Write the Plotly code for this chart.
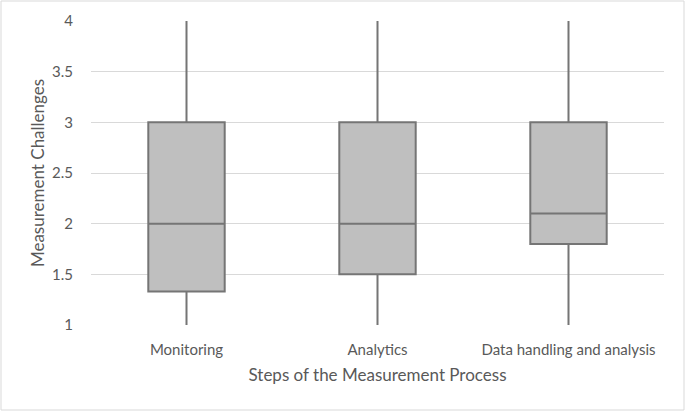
import plotly.graph_objects as go

categories = ["Monitoring", "Analytics", "Data handling and analysis"]
lower = [1, 1, 1]
q1 = [1.33, 1.5, 1.8]
median = [2, 2, 2.1]
q3 = [3, 3, 3]
upper = [4, 4, 4]
y_ticks = [1, 1.5, 2, 2.5, 3, 3.5, 4]
y_tick_text = ["1", "1.5", "2", "2.5", "3", "3.5", "4"]

FONT = "Lato"
TXT = "#595959"

fig = go.Figure()
fig.add_trace(go.Box(
    x=categories, q1=q1, median=median, q3=q3,
    lowerfence=lower, upperfence=upper,
    fillcolor="#bfbfbf",
    line=dict(color="#757575", width=2),
    whiskerwidth=0,
    width=0.4,
    boxpoints=False,
    showlegend=False,
    hoverinfo="skip",
))

W, H = 685, 411
ml, mr, mt, mb = 91, 21, 21, 86
pw, ph = W - ml - mr, H - mt - mb

fig.update_layout(
    width=W, height=H,
    margin=dict(l=ml, r=mr, t=mt, b=mb),
    paper_bgcolor="white", plot_bgcolor="white",
    font=dict(family=FONT, color=TXT, size=15),
    xaxis=dict(
        type="category", showgrid=False, zeroline=False, showline=False,
        ticks="", ticklabelstandoff=14,
        tickfont=dict(size=15, color=TXT, family=FONT),
        title=dict(text="Steps of the Measurement Process",
                   font=dict(size=17, color=TXT, family=FONT), standoff=12),
        range=[-0.5, 2.5],
    ),
    yaxis=dict(
        range=[1, 4], tickvals=y_ticks, ticktext=y_tick_text,
        showgrid=True, gridcolor="#d9d9d9", gridwidth=1,
        zeroline=False, showline=False, ticks="",
        ticklabelstandoff=17,
        tickfont=dict(size=15, color=TXT, family=FONT),
        title=dict(text="Measurement Challenges",
                   font=dict(size=17, color=TXT, family=FONT), standoff=3),
    ),
    shapes=[dict(
        type="rect", xref="paper", yref="paper",
        x0=(1 - ml) / pw, x1=(W - 1 - ml) / pw,
        y0=(H - mb - (H - 1)) / ph, y1=(H - mb - 1) / ph,
        line=dict(color="#d9d9d9", width=1), fillcolor="rgba(0,0,0,0)",
        layer="above",
    )],
)

fig.write_html("out.html", config={"displayModeBar": False},
               post_script="document.body.style.margin='0';")
